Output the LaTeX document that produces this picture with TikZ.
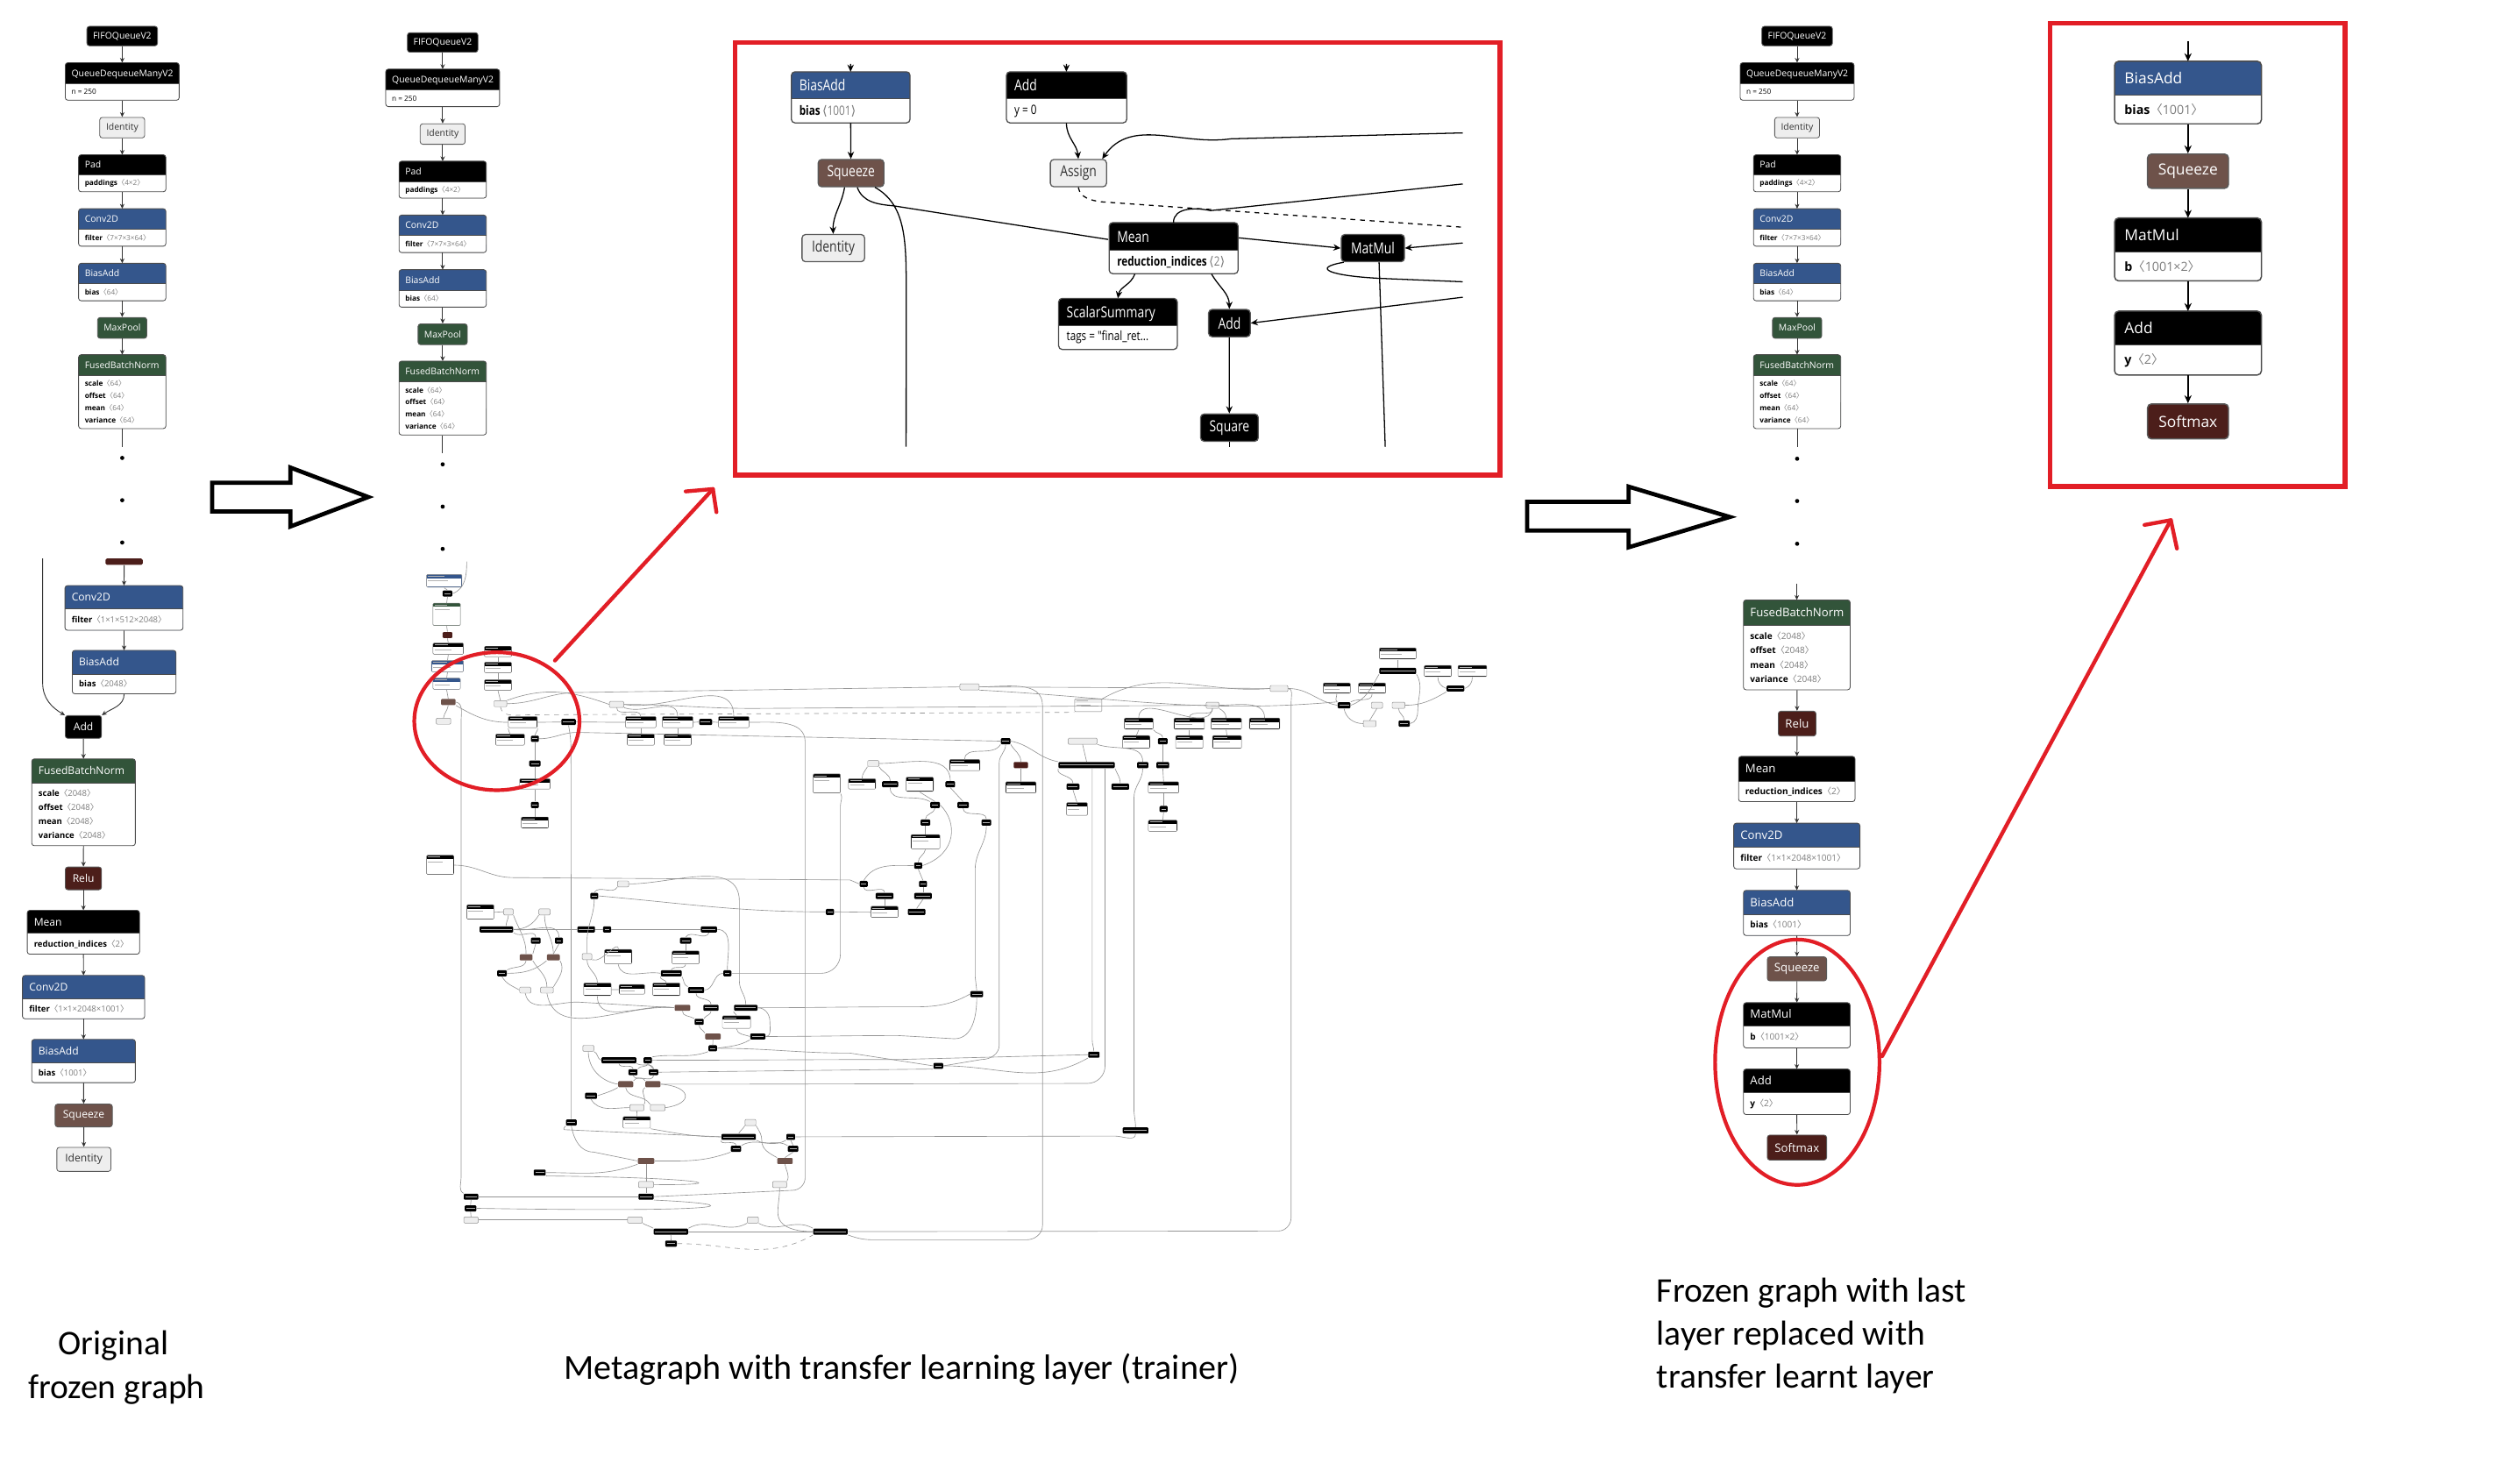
\documentclass[tikz,border=0pt]{standalone}
\usepackage{fontspec}
\setmainfont{Open Sans}
\newfontfamily\capfont{Carlito}
\newfontfamily\cjk{Noto Sans CJK SC}
\newfontfamily\dvs{DejaVu Sans}
\newfontfamily\nar{Open Sans}[FakeStretch=0.8]
\usetikzlibrary{arrows.meta,shapes.geometric}
\definecolor{tbblue}{RGB}{52,86,140}
\definecolor{tbgreen}{RGB}{50,84,58}
\definecolor{tbbrown}{RGB}{110,82,74}
\definecolor{tbred}{RGB}{76,30,26}
\definecolor{tblight}{RGB}{238,238,238}
\definecolor{valgray}{RGB}{125,125,125}
\definecolor{mkred}{RGB}{226,30,38}
\newcommand\V[1]{\textcolor{valgray}{{\cjk 〈}#1{\cjk 〉}}}
\newcommand\Vn[1]{\textcolor{valgray}{\,{\dvs ⟨}#1{\dvs ⟩}}}
\def\tsz{5.7}\def\tfam{}\def\pd{3.7}\def\rc{1.6pt}\def\bw{0.45pt}
\def\bfnt{\fontsize{4.5}{7.6}\selectfont}
\def\pfnt{\tfam\fontsize{\tsz}{\tsz}\selectfont}
% name, cx, top, width, header h, body h, header colour, title, body
\newcommand\TB[9]{%
 \fill[#7, rounded corners=\rc] ({#2-#4/2},#3) rectangle ({#2+#4/2},{#3+#5+#6});
 \fill[white] ({#2-#4/2},{#3+#5}) rectangle ({#2+#4/2},{#3+#5+#6/2});
 \fill[white, rounded corners=\rc] ({#2-#4/2},{#3+#5+#6/4}) rectangle ({#2+#4/2},{#3+#5+#6});
 \draw[tbborder, rounded corners=\rc] ({#2-#4/2},#3) rectangle ({#2+#4/2},{#3+#5+#6});
 \draw[tbborder] ({#2-#4/2},{#3+#5}) -- ({#2+#4/2},{#3+#5});
 \node[inner sep=0pt, outer sep=0pt, minimum width=#4pt, minimum height={(#5+#6)*1pt}, anchor=north] (#1) at (#2,#3) {};
 \node[anchor=base west, inner sep=0pt, text=white, font=\pfnt] (#1t) at ({#2-#4/2+\pd},{#3+#5/2+0.36*\tsz}) {#8};
 \node[anchor=west, inner sep=0pt, align=left, font=\bfnt] (#1b) at ({#2-#4/2+\pd},{#3+#5+#6/2}) {#9};
}
% tiny nodes of the small graph
\newcommand\tk[4]{\node[tiny, fill=black, minimum width=#4pt] (#1) at (#2,#3) {};
 \draw[white!70!black, line width=0.45pt] ({#2-#4/2+1},#3) -- ({#2+#4/2-1},#3);}
\newcommand\tkl[4]{\node[tiny, fill=tblight, draw=black!45, line width=0.25pt, minimum width=#4pt] (#1) at (#2,#3) {};}
\newcommand\tcl[5]{\node[tiny, fill=#5, minimum width=#4pt] (#1) at (#2,#3) {};}
\newcommand\thb[6]{%
 \fill[#6, rounded corners=0.6pt] ({#2-#4/2},#3) rectangle ({#2+#4/2},{#3+#5});
 \fill[white] ({#2-#4/2+0.25},{#3+2.4}) rectangle ({#2+#4/2-0.25},{#3+#5-0.25});
 \draw[black!45, line width=0.25pt, rounded corners=0.6pt] ({#2-#4/2},#3) rectangle ({#2+#4/2},{#3+#5});
 \node[inner sep=0pt, minimum width=#4pt, minimum height=#5pt, anchor=north] (#1) at (#2,#3) {};
 \draw[white!70!black, line width=0.45pt] ({#2-#4/2+1},{#3+1.2}) -- ({#2},{#3+1.2});
 \draw[black!30, line width=0.4pt] ({#2-#4/2+1},{#3+4}) -- ({#2-#4/2+0.6*#4},{#3+4});}
\tikzset{
 tbborder/.style={draw=black!70, line width=\bw},
 pill/.style={fill=#1, draw=black!65, line width=\bw, rounded corners=\rc, inner sep=0pt, text=white, font=\pfnt},
 lpill/.style={pill=tblight, text=black!80},
 edge/.style={draw=black!80, line width=0.5pt, -{Stealth[length=3pt,width=2.8pt]}},
 edgeD/.style={draw=black, line width=0.8pt, -{Stealth[length=5pt,width=4.5pt]}},
 edgeE/.style={draw=black, line width=0.7pt, -{Stealth[length=4.5pt,width=4pt]}},
 wireE/.style={draw=black, line width=0.7pt},
 wire/.style={draw=black!42, line width=0.35pt},
 tiny/.style={inner sep=0pt, minimum height=3.8pt, rounded corners=0.6pt},
 dot/.style={circle, fill=black, inner sep=0pt, minimum size=2.6pt},
 redline/.style={draw=mkred, line width=2.4pt, line cap=round, line join=round},
 bigarrow/.style={draw=black, line width=2.6pt, fill=white, line join=miter},
 capt/.style={inner sep=0pt, font=\capfont\fontsize{21.6}{27}\selectfont},
}
\begin{document}
\begin{tikzpicture}[x=1pt, y=-1pt]
\fill[white] (0,0) rectangle (1560,925);
\useasboundingbox (0,0) rectangle (1560,925);
\begin{scope}[yscale=0.995]
%================ column 1 : original frozen graph =================
\node[pill=black, minimum width=44pt, minimum height=12.2pt] (fifo1) at (76.2,22.6) {FIFOQueueV2};
\TB{qdm1}{76.2}{39.3}{71}{13.2}{10.3}{black}{QueueDequeueManyV2}{n = 250}
\node[lpill, minimum width=28pt, minimum height=12.8pt] (id1) at (76.2,80) {Identity};
\TB{pad1}{76.2}{97}{54.4}{12.8}{10.4}{black}{Pad}{\textbf{paddings}\V{4×2}}
\TB{conv1}{76.2}{130.8}{54.4}{12.9}{10.6}{tbblue}{Conv2D}{\textbf{filter}\V{7×7×3×64}}
\TB{bias1}{76.2}{165}{54.4}{12.9}{10.6}{tbblue}{BiasAdd}{\textbf{bias}\V{64}}
\node[pill=tbgreen, minimum width=30.7pt, minimum height=13pt] (mp1) at (76.2,205.5) {MaxPool};
\TB{fbn1}{76.2}{222.3}{54.4}{12.9}{33.4}{tbgreen}{FusedBatchNorm}{\textbf{scale}\V{64}\\\textbf{offset}\V{64}\\\textbf{mean}\V{64}\\\textbf{variance}\V{64}}
\coordinate (f1end) at (76.2,280);
\draw[edge] (fifo1) -- (qdm1);
\draw[edge] (qdm1) -- (id1);
\draw[edge] (id1) -- (pad1);
\draw[edge] (pad1) -- (conv1);
\draw[edge] (conv1) -- (bias1);
\draw[edge] (bias1) -- (mp1);
\draw[edge] (mp1) -- (fbn1);
\draw[draw=black!80, line width=0.5pt] (fbn1.south) -- (f1end);
\node[dot] (d1a) at (76.2,287) {};
\node[dot] (d1b) at (76.2,313.5) {};
\node[dot] (d1c) at (76.2,340) {};

\def\tsz{6.6}\def\pd{4}\def\bfnt{\fontsize{5.2}{8.8}\selectfont}
\node[fill=tbred, inner sep=0pt, minimum width=23.3pt, minimum height=4pt, rounded corners=1pt] (cut1) at (77.4,352) {};
\coordinate (lw1) at (26.6,350);
\TB{conv1b}{77.3}{367}{73.6}{14.3}{13.7}{tbblue}{Conv2D}{\textbf{filter}\V{1×1×512×2048}}
\TB{bias1b}{77.4}{407.6}{64.7}{15}{12.2}{tbblue}{BiasAdd}{\textbf{bias}\V{2048}}
\node[pill=black, minimum width=22.6pt, minimum height=14.2pt] (add1) at (52,455.6) {Add};
\TB{fbn1b}{52.1}{475.6}{64.6}{15}{39.4}{tbgreen}{FusedBatchNorm}{\textbf{scale}\V{2048}\\\textbf{offset}\V{2048}\\\textbf{mean}\V{2048}\\\textbf{variance}\V{2048}}
\node[pill=tbred, minimum width=22.6pt, minimum height=14.2pt] (relu1) at (52,550.5) {Relu};
\TB{mean1}{52}{570.5}{70}{14.5}{13}{black}{Mean}{\textbf{reduction\_indices}\V{2}}
\TB{conv1c}{52.1}{611.3}{76.2}{14.8}{12.4}{tbblue}{Conv2D}{\textbf{filter}\V{1×1×2048×1001}}
\TB{bias1c}{52.1}{651.4}{64.6}{14.8}{12.3}{tbblue}{BiasAdd}{\textbf{bias}\V{1001}}
\node[pill=tbbrown, minimum width=35.7pt, minimum height=14.2pt] (sq1) at (52.2,699.1) {Squeeze};
\node[lpill, minimum width=33.7pt, minimum height=15pt] (idn1) at (52.3,726.6) {Identity};
\draw[edge] (cut1) -- (conv1b);
\draw[edge] (conv1b) -- (bias1b);
\draw[edge] (bias1b.south) to[out=-90,in=35] (add1.north east);
\draw[edge] (lw1) -- (26.6,428) to[out=-90,in=150] (add1.north west);
\draw[edge] (add1) -- (fbn1b);
\draw[edge] (fbn1b) -- (relu1);
\draw[edge] (relu1) -- (mean1);
\draw[edge] (mean1) -- (conv1c);
\draw[edge] (conv1c) -- (bias1c);
\draw[edge] (bias1c) -- (sq1);
\draw[edge] (sq1) -- (idn1);

%================ column 2 : metagraph =================
\def\tsz{5.7}\def\pd{3.7}\def\bfnt{\fontsize{4.5}{7.6}\selectfont}
\node[pill=black, minimum width=44pt, minimum height=12.2pt] (fifo2) at (276,26.6) {FIFOQueueV2};
\TB{qdm2}{276}{43.3}{71}{13.2}{10.3}{black}{QueueDequeueManyV2}{n = 250}
\node[lpill, minimum width=28pt, minimum height=12.8pt] (id2) at (276,84) {Identity};
\TB{pad2}{276}{101}{54.4}{12.8}{10.4}{black}{Pad}{\textbf{paddings}\V{4×2}}
\TB{conv2}{276}{134.8}{54.4}{12.9}{10.6}{tbblue}{Conv2D}{\textbf{filter}\V{7×7×3×64}}
\TB{bias2}{276}{169}{54.4}{12.9}{10.6}{tbblue}{BiasAdd}{\textbf{bias}\V{64}}
\node[pill=tbgreen, minimum width=30.7pt, minimum height=13pt] (mp2) at (276,209.5) {MaxPool};
\TB{fbn2}{276}{226.3}{54.4}{12.9}{33.4}{tbgreen}{FusedBatchNorm}{\textbf{scale}\V{64}\\\textbf{offset}\V{64}\\\textbf{mean}\V{64}\\\textbf{variance}\V{64}}
\coordinate (f2end) at (276,284);
\draw[edge] (fifo2) -- (qdm2);
\draw[edge] (qdm2) -- (id2);
\draw[edge] (id2) -- (pad2);
\draw[edge] (pad2) -- (conv2);
\draw[edge] (conv2) -- (bias2);
\draw[edge] (bias2) -- (mp2);
\draw[edge] (mp2) -- (fbn2);
\draw[draw=black!80, line width=0.5pt] (fbn2.south) -- (f2end);
\node[dot] (d2a) at (276,291) {};
\node[dot] (d2b) at (276,317.5) {};
\node[dot] (d2c) at (276,344) {};

%---- small picture of the whole trainer graph
\thb{xc1}{277}{360}{22}{8}{tbblue}
\tk{xc2}{279}{372}{6}
\thb{xc3}{278.5}{378}{17}{14}{tbgreen}
\tcl{xc4}{279}{398}{6}{tbred}
\thb{xc5}{279.5}{403}{19}{7}{black}
\thb{xc6}{279}{414}{20}{7}{tbblue}
\thb{xc7}{278.5}{425}{17}{7}{tbblue}
\tcl{xc8}{279.5}{440}{9}{tbbrown}
\tkl{xc9}{276.5}{452}{9}
\thb{xd1}{310.5}{405}{17}{6.5}{black}
\thb{xd2}{310.5}{415}{17}{6.5}{black}
\thb{xd3}{310.5}{426}{17}{6.5}{black}
\tkl{xd4}{312}{441}{8}
\thb{xe1}{326}{449}{18}{7}{black}
\tk{xe2}{354.5}{452.5}{9}
\thb{xe3}{318}{460}{18}{7}{black}
\tk{xe4}{333.5}{463}{5}
\tk{xe5}{333.5}{478.5}{7}
\thb{xe6}{333.5}{488}{19}{6.5}{black}
\tk{xe7}{333.5}{504.5}{5}
\thb{xe8}{333.5}{512}{17}{7}{black}
\tkl{xf1}{384.5}{441.5}{9}
\thb{xf2}{399.5}{449}{19}{7}{black}
\thb{xf3}{422.5}{449}{19}{7}{black}
\tk{xf4}{440}{452.5}{8}
\thb{xf5}{457.5}{449}{19}{7}{black}
\thb{xf6}{399.5}{460}{17}{7}{black}
\thb{xf7}{422.5}{460}{17}{7}{black}
\tkl{xg1}{604.5}{430.5}{12}
\tkl{xh1}{797.5}{431.5}{11}
\thb{xh2}{678.5}{438}{17}{8}{tblight}
\tkl{xh3}{756}{442}{8}
\thb{xh4}{710}{450}{18}{7}{black}
\thb{xh5}{741.5}{450}{19}{7}{black}
\thb{xh6}{764.5}{450}{19}{7}{black}
\thb{xh7}{788.5}{450}{19}{7}{black}
\thb{xh8}{708.5}{461}{17}{8}{black}
\thb{xh9}{741.5}{461}{17}{8}{black}
\thb{xh10}{765}{461}{18}{8}{black}
\tk{xh11}{725}{464.5}{6}
\tk{xh12}{627}{464.5}{6}
\tkl{xh13}{675}{464.5}{18}
\thb{xk1}{871.5}{406}{23}{7}{black}
\tk{xk2}{871.5}{420.5}{23}
\thb{xk3}{896.5}{417}{17}{7}{black}
\thb{xk4}{918}{417}{18}{7}{black}
\thb{xk5}{833.5}{428}{17}{6.5}{black}
\thb{xk6}{855.5}{428}{17}{6.5}{black}
\tk{xk7}{907.5}{431.5}{11}
\tk{xk8}{838}{442}{8}
\tkl{xk9}{858.5}{442}{7}
\tkl{xk10}{872}{442}{8}
\tkl{xk11}{854}{453.5}{8}
\tk{xk12}{875.5}{453.5}{7}
\thb{xm1}{601.5}{476}{19}{7}{black}
\tcl{xm2}{636.5}{479.5}{9}{tbred}
\tk{xm3}{677.5}{479.5}{35}
\tk{xm4}{712.5}{479.5}{7}
\tk{xm5}{725}{479.5}{8}
\thb{xm7}{636.5}{490}{19}{7}{black}
\thb{xm8}{725.5}{490}{19}{7}{black}
\thb{xm9}{725}{514}{18}{7}{black}
\tk{xm10}{725.5}{507}{5}
\thb{xm11}{671.5}{503}{13}{8}{black}
\tk{xm12}{669}{493}{8}
\tk{xm13}{698.5}{493}{11}
\thb{xn1}{515.5}{485}{17}{12}{black}
\tkl{xn2}{544.5}{478.5}{7}
\thb{xn3}{537.5}{488}{17}{6.5}{black}
\tk{xn4}{555}{491.5}{10}
\thb{xn5}{573.5}{487}{17}{9}{black}
\tk{xn6}{592.5}{491.5}{6}
\tk{xn7}{583}{504.5}{6}
\tk{xn8}{600.5}{504.5}{7}
\tk{xn9}{615}{515.5}{6}
\tk{xn10}{577}{515.5}{6}
\thb{xn11}{577}{523}{18}{9}{black}
\tk{xn12}{572.5}{542.5}{5}
\tk{xn13}{575.5}{554}{5}
\tk{xn14}{538.5}{554}{5}
\tk{xn15}{551.5}{561.5}{11}
\tk{xn16}{575.5}{561.5}{11}
\thb{xn17}{551.5}{568}{17}{7}{black}
\tk{xn18}{571.5}{571.5}{11}
\thb{xp1}{274.5}{536}{17}{12}{black}
\tkl{xp2}{388.5}{554}{7}
\tk{xp3}{370.5}{561.5}{5}
\tk{xp4}{517.5}{571.5}{5}
\thb{xp5}{299.5}{567}{17}{9}{black}
\tkl{xp6}{317}{571.5}{6}
\tkl{xp7}{339.5}{571.5}{7}
\tk{xp8}{309.5}{582.5}{21}
\tk{xp9}{365.5}{582.5}{11}
\tk{xp10}{378.5}{582.5}{5}
\tk{xp11}{442}{582.5}{10}
\tk{xp12}{334}{589.5}{6}
\tk{xp13}{348.5}{589.5}{5}
\tk{xp14}{427.5}{589.5}{7}
\tcl{xp15}{328}{600}{8}{tbbrown}
\tcl{xp16}{345}{600}{8}{tbbrown}
\thb{xp17}{427.5}{596}{17}{8}{black}
\thb{xp18}{385.5}{595}{17}{9}{black}
\tkl{xp19}{366}{599.5}{6}
\tk{xp20}{313}{610}{6}
\tk{xp21}{418.5}{610}{13}
\tk{xp22}{453.5}{610}{5}
\thb{xp23}{372.5}{616}{17}{8}{black}
\thb{xp24}{394}{617}{16}{6}{black}
\thb{xp25}{415.5}{616}{17}{8}{black}
\tk{xp26}{434}{620.5}{10}
\tkl{xp27}{327.5}{620.5}{7}
\tkl{xp28}{341}{620.5}{8}
\tk{xp29}{609}{623}{8}
\tk{xq11}{585}{668}{6}
\tk{xq12}{682}{661}{7}
\tk{xq13}{708}{708.5}{16}
\tcl{xy1}{425.5}{631.6}{9.7}{tbbrown}
\tk{xy2}{443.3}{631.6}{9.5}
\tk{xy3}{465}{631.6}{14.6}
\tk{xy4}{435.9}{640.4}{5.7}
\thb{xy5}{459.2}{636.6}{17.6}{7.8}{black}
\tcl{xy6}{444.5}{649.6}{9.6}{tbbrown}
\tk{xy7}{472.5}{649.6}{9.4}
\tk{xy8}{444.4}{657}{5.3}
\tkl{xy9}{366.8}{657}{6.8}
\tk{xy10}{385.9}{664.5}{21.8}
\tk{xy11}{403.9}{664.5}{5.2}
\tk{xy12}{394.7}{672}{5.6}
\tk{xy13}{407.5}{672}{5.8}
\tcl{xy14}{390.1}{679.5}{9.4}{tbbrown}
\tcl{xy15}{407.1}{679.5}{9.4}{tbbrown}
\tk{xy16}{368.5}{686.8}{7.4}
\tkl{xy17}{397.1}{694.2}{8.8}
\tkl{xy18}{410.1}{694.2}{9.2}
\thb{xy19}{397}{699.8}{17.1}{7.2}{black}
\tk{xy20}{356.2}{703.5}{6.7}
\tkl{xy21}{467.9}{703.5}{6.8}
\tk{xy22}{460.6}{712.5}{21.4}
\tk{xy23}{493}{712.5}{5.4}
\tk{xy24}{458.9}{720}{6.4}
\tk{xy25}{494.5}{720}{6.5}
\tcl{xy26}{402.8}{727.6}{10.2}{tbbrown}
\tcl{xy27}{489.4}{727.6}{9.6}{tbbrown}
\tk{xy28}{336.5}{734.9}{7.5}
\tkl{xy29}{402.8}{742.4}{9.4}
\tkl{xy30}{486.1}{742.4}{8.8}
\tk{xy31}{293.7}{750}{9}
\tk{xy32}{402.8}{750}{9.4}
\tk{xy33}{293.4}{757.3}{7.2}
\tkl{xy34}{293.7}{764.6}{9}
\tkl{xy35}{395.9}{764.6}{9.2}
\tkl{xy36}{469.4}{764.6}{7}
\tk{xy37}{418.3}{771.9}{21.5}
\tk{xy38}{517.8}{771.9}{21.5}
\tk{xy39}{418.4}{779.4}{7.3}
\coordinate (xr0) at (291,352);
% wires
\draw[wire] (xc1.south) -- (xc2.north);
\draw[wire] (xr0) to[out=-90,in=20] (xc2.east);
\draw[wire] (xc2.south) -- (xc3.north);
\draw[wire] (xc3.south) -- (xc4.north);
\draw[wire] (xc4.south) -- (xc5.north);
\draw[wire] (xc5.south) -- (xc6.north);
\draw[wire] (xc6.south) -- (xc7.north);
\draw[wire] (xc7.south) -- (xc8.north);
\draw[wire] (xc8.south) to[out=-100,in=80] (xc9.north);
\draw[wire] (xd1.south) -- (xd2.north);
\draw[wire] (xd2.south) -- (xd3.north);
\draw[wire] (xd3.south) -- (xd4.north);
\draw[wire] (xc8.south east) to[out=-30,in=180] (xe1.west);
\draw[wire] (xc8.east) to[out=-10,in=90] (287.5,452) -- (287.5,738) to[out=-90,in=150] (xy31.north west);
\draw[wire] (xy38.east) -- (797,771.5) to[out=0,in=-90] (805,763) -- (805,440) to[out=90,in=0] (xh1.east);
\draw[wire] (xe1.east) -- (xe2.west);
\draw[wire] (xe1.south west) to[out=-100,in=90] (xe3.north);
\draw[wire] (xe1.south east) to[out=-80,in=90] (xe4.north);
\draw[wire] (xe4.south) -- (xe5.north);
\draw[wire] (xe5.south) -- (xe6.north);
\draw[wire] (xe6.south) -- (xe7.north);
\draw[wire] (xe7.south) -- (xe8.north);
\draw[wire] (xe2.south) to[out=-80,in=90] (356,470) -- (xy20.north);
\draw[wire] (xg1.east) to[out=0,in=90] (650,442) -- (650,768) to[out=-90,in=0] (640,777) -- (545,777) to[out=180,in=-20] (xy38.south east);
\draw[wire] (xe2.east) to[out=0,in=180] (xf2.west);
\draw[wire] (xd4.east) to[out=0,in=180] (360,434) -- (xg1.west);
\draw[wire] (xg1.east) -- (xh1.west);
\draw[wire] (xh1.east) to[out=0,in=170] (xk8.west);
\draw[wire] (xg1.south east) to[out=-3,in=185] (xk8.north west);
\draw[wire, dashed] (xd4.south) to[out=-80,in=180] (330,448) -- (xh2.south west);
\draw[wire] (xh2.north east) to[out=30,in=185] (xh1.west);
\draw[wire] (xd4.north east) to[out=20,in=160] (xf1.west);
\draw[wire] (xf1.east) to[out=0,in=180] (470,444) -- (xh3.west);
\draw[wire] (xf1.south) to[out=-90,in=90] (xf2.north);
\draw[wire] (xf1.south east) to[out=-20,in=90] (xf3.north);
\draw[wire] (xf1.east) to[out=-10,in=90] (xf5.north);
\draw[wire] (xf2.south) -- (xf6.north);
\draw[wire] (xf3.south) -- (xf7.north);
\draw[wire] (xf3.east) -- (xf4.west);
\draw[wire] (xf4.east) -- (xf5.west);
\draw[wire] (xe4.east) to[out=0,in=180] (360,459) -- (xh12.west);
\draw[wire] (xf5.east) to[out=0,in=90] (502,465) -- (502,738) to[out=-90,in=0] (494,746) -- (xy32.east);
\draw[wire] (xh3.south) to[out=-100,in=90] (xh4.north);
\draw[wire] (xh3.south) to[out=-80,in=90] (xh5.north);
\draw[wire] (xh3.south east) to[out=-30,in=90] (xh6.north);
\draw[wire] (xh3.east) to[out=0,in=90] (xh7.north);
\draw[wire] (xh4.south) -- (xh8.north);
\draw[wire] (xh5.south) -- (xh9.north);
\draw[wire] (xh6.south) -- (xh10.north);
\draw[wire] (xh4.south east) to[out=-60,in=90] (xh11.north);
\draw[wire] (xh11.south) -- (xm5.north);
\draw[wire] (xh13.south) -- (xm3.north);
\draw[wire] (xh13.south east) to[out=-20,in=90] (xm4.north);
\draw[wire] (xh12.south west) to[out=-120,in=90] (xm1.north);
\draw[wire] (xh12.south east) to[out=-60,in=90] (xm2.north);
\draw[wire] (xh12.east) to[out=-10,in=170] (xm3.north west);
\draw[wire] (xh12.south) to[out=-90,in=90] (623,478) -- (623,655) to[out=-90,in=0] (612,664) -- (xq11.east);
\draw[wire] (xk1.south) -- (xk2.north);
\draw[wire] (xk2.south west) to[out=-120,in=20] (xk8.east);
\draw[wire] (xk2.south east) to[out=-60,in=90] (884,445) to[out=-90,in=10] (xk12.east);
\draw[wire] (xk3.south) to[out=-90,in=160] (xk7.west);
\draw[wire] (xk4.south) to[out=-90,in=20] (xk7.east);
\draw[wire] (xk7.south west) to[out=-150,in=0] (xk10.east);
\draw[wire] (xk5.south) to[out=-90,in=150] (xk8.north west);
\draw[wire] (xk6.south) to[out=-90,in=30] (xk8.north east);
\draw[wire] (xk8.south) to[out=-80,in=180] (xk11.west);
\draw[wire] (xk9.south) -- (xk11.north);
\draw[wire] (xk10.south) to[out=-90,in=90] (xk12.north);
\draw[wire] (xm2.south) -- (xm7.north);
\draw[wire] (xm3.south west) to[out=-110,in=90] (xm12.north);
\draw[wire] (xm12.south) -- (xm11.north);
\draw[wire] (xm3.south east) to[out=-70,in=90] (xm13.north);
\draw[wire] ([xshift=3.5pt]xm3.south) -- (681,652) to[out=-90,in=90] (xq12.north);
\draw[wire] ([xshift=11.5pt]xm3.south) -- (689,668) to[out=-90,in=0] (678,679) -- (440,679.5) to[out=180,in=0] (xy15.east);
\draw[wire] (xm4.south) to[out=-90,in=90] (707,500) -- (707,695) to[out=-90,in=90] (xq13.north);
\draw[wire] (xm5.south) -- (xm8.north);
\draw[wire] (xm8.south) -- (xm10.north);
\draw[wire] (xm10.south) -- (xm9.north);
\draw[wire] (xn2.south west) to[out=-120,in=90] (xn3.north);
\draw[wire] (xn2.south east) to[out=-60,in=90] (xn4.north);
\draw[wire] (xn2.east) to[out=0,in=90] (xn6.north);
\draw[wire] (xn4.south) to[out=-90,in=150] (xn7.north west);
\draw[wire] (xn5.south) -- (xn7.north);
\draw[wire] (xn6.south) -- (xn8.north);
\draw[wire] (xn8.south) to[out=-90,in=90] (xn9.north);
\draw[wire] (xn7.south) to[out=-100,in=90] (xn10.north);
\draw[wire] (xn10.south) -- (xn11.north);
\draw[wire] (xn11.south) to[out=-100,in=90] (xn12.north);
\draw[wire] (xn7.east) .. controls (597,515) and (597,535) .. (xn12.east);
\draw[wire] (xn12.south) -- (xn13.north);
\draw[wire] (xn13.south) -- (xn16.north);
\draw[wire] (xn12.west) to[out=180,in=60] (xn14.north);
\draw[wire] (xn14.south) to[out=-80,in=90] (xn15.north);
\draw[wire] (xn15.south) -- (xn17.north);
\draw[wire] (xn16.south) -- (xn18.north);
\draw[wire] (xn9.south) to[out=-90,in=90] (608,545) -- (608,612) -- (xp29.north);
\draw[wire] (xn1.south east) to[out=-60,in=90] (524,505) -- (524,598) to[out=-90,in=0] (512,610) -- (xp22.east);
\draw[wire] (xp1.east) to[out=0,in=180] (320,550) -- (530,551.5) -- (xn14.west);
\draw[wire] (xp2.south west) to[out=-120,in=60] (xp3.north);
\draw[wire] (xp2.east) to[out=0,in=90] (461,565) -- (461,615) to[out=-90,in=90] (xy3.north);
\draw[wire] (xp3.east) to[out=-5,in=180] (xp4.west);
\draw[wire] (xp4.east) to[out=0,in=180] (xn17.west);
\draw[wire] (xp6.south) to[out=-90,in=90] ([xshift=6pt]xp8.north);
\draw[wire] (xp7.south west) to[out=-120,in=0] (xp8.east);
\draw[wire] (xp8.south east) to[out=-40,in=90] (xp12.north);
\draw[wire] (xp8.east) to[out=-10,in=90] (xp13.north);
\draw[wire] (xp6.south east) to[out=-70,in=90] (xp15.north);
\draw[wire] (xp7.south) to[out=-90,in=90] (xp16.north);
\draw[wire] (xp12.south) -- (xp15.north east);
\draw[wire] (xp13.south) -- (xp16.north);
\draw[wire] (xp15.south) to[out=-100,in=30] (xp20.north east);
\draw[wire] (xp16.south west) to[out=-140,in=0] (xp20.east);
\draw[wire] (xp20.south) to[out=-60,in=150] (xp27.west);
\draw[wire] (xp15.south east) to[out=-60,in=90] (xp28.north);
\draw[wire] (xp16.south east) to[out=-60,in=60] (xp28.north east);
\draw[wire] (xp8.east) -- (xp9.west);
\draw[wire] (xp9.east) -- (xp10.west);
\draw[wire] (xp10.east) -- (xp11.west);
\draw[wire] (xp11.south) to[out=-110,in=60] (xp14.north);
\draw[wire] (xp14.south) -- (xp17.north);
\draw[wire] (xp17.south) to[out=-100,in=60] (xp21.north);
\draw[wire] (xp19.south east) to[out=-20,in=90] (xp18.north);
\draw[wire] (xp19.south) to[out=-90,in=90] (xp23.north);
\draw[wire] (xp18.south) to[out=-80,in=170] (xp21.west);
\draw[wire] (xp21.south west) to[out=-110,in=90] (xp25.north);
\draw[wire] (xp21.south east) to[out=-60,in=160] (xp26.north west);
\draw[wire] (xp26.east) to[out=0,in=180] (xp22.west);
\draw[wire] (xp22.north) to[out=90,in=0] (xp11.east);
\draw[wire] (xp23.east) -- (xp24.west);
\draw[wire] (xp3.south) to[out=-90,in=90] (366,590) -- (xp19.north);
\draw[wire] (xp5.east) to[out=0,in=180] (xp6.west);
\draw[wire] (xq12.south west) to[out=-150,in=0] (xq11.east);
\draw[wire] (xq13.south) to[out=-90,in=0] (695,712) -- (xy23.east);
% lower part of the small graph
\draw[wire] (xp23.south) to[out=-90,in=170] (xy1.west);
\draw[wire] (xp27.south) to[out=-80,in=180] (360,628) -- (xy1.west);
\draw[wire] (xp28.south) to[out=-80,in=175] (xy1.west);
\draw[wire] (xp26.south) to[out=-90,in=90] (xy2.north);
\draw[wire] (xy1.south) to[out=-90,in=150] (xy4.north west);
\draw[wire] (xy2.south) to[out=-90,in=60] (xy4.north east);
\draw[wire] (xy3.south west) to[out=-120,in=90] (xy5.north);
\draw[wire] (xy3.east) to[out=0,in=90] (480,640) to[out=-90,in=0] (xy7.east);
\draw[wire] (xy4.south) to[out=-90,in=120] (xy6.north west);
\draw[wire] (xy5.south) to[out=-80,in=160] (xy7.west);
\draw[wire] (xy6.south) -- (xy8.north);
\draw[wire] (xy7.south west) to[out=-150,in=10] (xy8.east);
\draw[wire] (xy8.south west) to[out=-160,in=10] (xy11.north east);
\draw[wire] (xy3.east) to[out=0,in=180] (560,631) to[out=0,in=-150] (xp29.west);
\draw[wire] (xy7.east) to[out=0,in=180] (560,649) -- (595,651) to[out=0,in=-90] (xp29.south);
\draw[wire] (xy8.east) to[out=0,in=180] (530,660) -- (xq11.west);
\draw[wire] (xy11.east) to[out=0,in=180] (560,664) -- (xq12.west);
\draw[wire] (xy13.east) -- (580,670) to[out=0,in=-150] (xq11.south west);
\draw[wire] (xy9.south east) to[out=-20,in=160] (xy10.west);
\draw[wire] (xy9.south) to[out=-90,in=170] (xy14.west);
\draw[wire] (xy10.south) to[out=-80,in=100] (xy12.north);
\draw[wire] (xy10.south east) to[out=-30,in=100] (xy13.north);
\draw[wire] (xy11.south) to[out=-100,in=60] (xy12.north east);
\draw[wire] (xy11.south) -- (xy13.north);
\draw[wire] (xy12.south) to[out=-80,in=100] (xy15.north west);
\draw[wire] (xy13.south) to[out=-100,in=60] (xy14.north east);
\draw[wire] (xy14.south west) to[out=-150,in=20] (xy16.east);
\draw[wire] (xy14.south) to[out=-80,in=120] (xy18.north west);
\draw[wire] (xy15.south west) to[out=-150,in=60] (xy17.north east);
\draw[wire] (xy15.east) .. controls (432,681) and (432,692) .. (xy18.east);
\draw[wire] (xy16.south) to[out=-60,in=180] (xy17.west);
\draw[wire] (xy17.south) -- (xy19.north);
\draw[wire] (xy19.south east) to[out=-10,in=180] (xy22.west);
\draw[wire] (xy20.south west) to[out=-150,in=180] (352,708) -- (xy22.west);
\draw[wire] (xy20.south) to[out=-80,in=180] (370,722) -- (xy26.west);
\draw[wire] (xy21.south west) to[out=-120,in=60] (xy22.north);
\draw[wire] (xy21.south east) to[out=-60,in=90] (475,715) to[out=-90,in=150] (xy27.north west);
\draw[wire] (xy22.south west) to[out=-110,in=90] (xy24.north);
\draw[wire] (xy22.south east) to[out=-30,in=150] (xy25.north west);
\draw[wire] (xy23.south west) to[out=-150,in=30] (xy24.north east);
\draw[wire] (xy23.south) -- (xy25.north);
\draw[wire] (xy24.south west) to[out=-160,in=0] (xy26.east);
\draw[wire] (xy25.south) -- (xy27.north);
\draw[wire] (xy26.south west) to[out=-160,in=0] (xy28.east);
\draw[wire] (xy26.south) -- (xy29.north);
\draw[wire] (xy28.south east) .. controls (440,738) and (460,743) .. (xy29.east);
\draw[wire] (xy27.south) to[out=-80,in=60] (xy30.north east);
\draw[wire] (xy29.south) -- (xy32.north);
\draw[wire] (xy32.west) -- (xy31.east);
\draw[wire] (xy31.south) -- (xy33.north);
\draw[wire] (xy33.south) -- (xy34.north);
\draw[wire] (xy32.south east) .. controls (470,755) and (460,760) .. (xy33.east);
\draw[wire] (xy34.east) -- (xy35.west);
\draw[wire] (xy35.south east) to[out=-30,in=150] (xy37.north west);
\draw[wire] (xy36.south west) to[out=-150,in=30] (xy37.north east);
\draw[wire] (xy36.south east) to[out=-30,in=150] (xy38.north west);
\draw[wire] (xy30.south) to[out=-90,in=90] (485,760) to[out=-90,in=180] (xy38.west);
\draw[wire] (xy37.east) -- (xy38.west);
\draw[wire] (xy37.south) -- (xy39.north);
\draw[wire, dashed] (xy39.east) to[out=0,in=-150] (xy38.south west);

%================ column 3 : frozen graph with replaced layer =================
\node[pill=black, minimum width=44pt, minimum height=12.2pt] (fifo3) at (1120.5,22.6) {FIFOQueueV2};
\TB{qdm3}{1120.5}{39.3}{71}{13.2}{10.3}{black}{QueueDequeueManyV2}{n = 250}
\node[lpill, minimum width=28pt, minimum height=12.8pt] (id3) at (1120.5,80) {Identity};
\TB{pad3}{1120.5}{97}{54.4}{12.8}{10.4}{black}{Pad}{\textbf{paddings}\V{4×2}}
\TB{conv3}{1120.5}{130.8}{54.4}{12.9}{10.6}{tbblue}{Conv2D}{\textbf{filter}\V{7×7×3×64}}
\TB{bias3}{1120.5}{165}{54.4}{12.9}{10.6}{tbblue}{BiasAdd}{\textbf{bias}\V{64}}
\node[pill=tbgreen, minimum width=30.7pt, minimum height=13pt] (mp3) at (1120.5,205.5) {MaxPool};
\TB{fbn3}{1120.5}{222.3}{54.4}{12.9}{33.4}{tbgreen}{FusedBatchNorm}{\textbf{scale}\V{64}\\\textbf{offset}\V{64}\\\textbf{mean}\V{64}\\\textbf{variance}\V{64}}
\coordinate (f3end) at (1120.5,280);
\draw[edge] (fifo3) -- (qdm3);
\draw[edge] (qdm3) -- (id3);
\draw[edge] (id3) -- (pad3);
\draw[edge] (pad3) -- (conv3);
\draw[edge] (conv3) -- (bias3);
\draw[edge] (bias3) -- (mp3);
\draw[edge] (mp3) -- (fbn3);
\draw[draw=black!80, line width=0.5pt] (fbn3.south) -- (f3end);
\node[dot] (d3a) at (1120.5,287.5) {};
\node[dot] (d3b) at (1120.5,314) {};
\node[dot] (d3c) at (1120.5,340.8) {};

\def\tsz{7.2}\def\pd{4}\def\bfnt{\fontsize{5.5}{9}\selectfont}
\coordinate (c3in) at (1120.3,365.7);
\TB{fbn3b}{1120.3}{376}{66.5}{16}{40.3}{tbgreen}{FusedBatchNorm}{\textbf{scale}\V{2048}\\\textbf{offset}\V{2048}\\\textbf{mean}\V{2048}\\\textbf{variance}\V{2048}}
\node[pill=tbred, minimum width=23.5pt, minimum height=15.5pt] (relu3) at (1120.5,453.5) {Relu};
\TB{mean3}{1120.3}{474}{72.6}{15.5}{12.9}{black}{Mean}{\textbf{reduction\_indices}\V{2}}
\TB{conv3b}{1120.3}{515.9}{78.7}{14.9}{13.7}{tbblue}{Conv2D}{\textbf{filter}\V{1×1×2048×1001}}
\TB{bias3b}{1120.3}{558}{66.5}{15}{13.3}{tbblue}{BiasAdd}{\textbf{bias}\V{1001}}
\node[pill=tbbrown, minimum width=37pt, minimum height=15pt] (sq3) at (1120.4,607.2) {Squeeze};
\TB{mm3}{1120.3}{628.4}{66.5}{14.6}{13.7}{black}{MatMul}{\textbf{b}\V{1001×2}}
\TB{add3}{1120.3}{670}{66.5}{14.9}{13.6}{black}{Add}{\textbf{y}\V{2}}
\node[pill=tbred, minimum width=37pt, minimum height=15.6pt] (smx3) at (1120.4,719.2) {Softmax};
\draw[edge] (c3in) -- (fbn3b);
\draw[edge] (fbn3b) -- (relu3);
\draw[edge] (relu3) -- (mean3);
\draw[edge] (mean3) -- (conv3b);
\draw[edge] (conv3b) -- (bias3b);
\draw[edge] (bias3b) -- (sq3);
\draw[edge] (sq3) -- (mm3);
\draw[edge] (mm3) -- (add3);
\draw[edge] (add3) -- (smx3);

%================ red box 2 : zoom of the new last layer =================
\node[draw=mkred, line width=3pt, inner sep=0pt, minimum width=184pt, minimum height=289pt, anchor=north west] (rb2) at (1276.6,13) {};
\def\tsz{9.5}\def\pd{6}\def\rc{2.5pt}\def\bw{0.8pt}\def\bfnt{\fontsize{7.8}{9}\selectfont}
\coordinate (rb2in) at (1364.2,25.7);
\TB{bias4}{1364.2}{38.4}{91.5}{21.1}{18.1}{tbblue}{BiasAdd}{\textbf{bias}\V{1001}}
\node[pill=tbbrown, minimum width=50.5pt, minimum height=21.4pt] (sq4) at (1364.2,107.3) {Squeeze};
\TB{mm4}{1364.2}{136.6}{91.5}{21.2}{18.2}{black}{MatMul}{\textbf{b}\V{1001×2}}
\TB{add4}{1364.2}{195}{91.5}{21.3}{18.7}{black}{Add}{\textbf{y}\V{2}}
\node[pill=tbred, minimum width=50.5pt, minimum height=21.8pt] (smx4) at (1364.2,264.1) {Softmax};
\draw[edgeD] (rb2in) -- (bias4);
\draw[edgeD] (bias4) -- (sq4);
\draw[edgeD] (sq4) -- (mm4);
\draw[edgeD] (mm4) -- (add4);
\draw[edgeD] (add4) -- (smx4);

%================ red box 1 : zoom of the trainer graph =================
\node[draw=mkred, line width=3pt, inner sep=0pt, minimum width=477pt, minimum height=270pt, anchor=north west] (rb1) at (456.7,25) {};
\def\tsz{9.5}\def\pd{4.8}\def\rc{2.2pt}\def\bw{0.7pt}\def\tfam{\nar}\def\bfnt{\nar\fontsize{8}{9}\selectfont}
\begin{scope}[shift={(453.7,0)}, xscale=0.986, shift={(-453.7,0)}]
\coordinate (b5in) at (531.5,40);
\coordinate (a5in) at (668,40);
\TB{ba5}{531.5}{45}{75}{17}{15}{tbblue}{BiasAdd}{\textbf{bias}\Vn{1001}}
\TB{add5}{668}{45}{76}{17}{15}{black}{Add}{y = 0}
\node[pill=tbbrown, minimum width=41pt, minimum height=17pt] (sq5) at (531.7,108.5) {Squeeze};
\node[lpill, minimum width=35pt, minimum height=17pt] (asg5) at (675.5,108.5) {Assign};
\node[lpill, minimum width=39pt, minimum height=17pt] (idn5) at (520.5,155.5) {Identity};
\TB{mean5}{735.7}{139.5}{81.5}{17.5}{14.5}{black}{Mean}{\textbf{reduction\_indices}\Vn{2}}
\node[pill=black, minimum width=39.4pt, minimum height=17pt] (mm5) at (861.7,155.5) {MatMul};
\TB{ss5}{700.5}{187}{75}{17}{15}{black}{ScalarSummary}{tags = "final\_ret...}
\node[pill=black, minimum width=26pt, minimum height=17pt] (add5b) at (771,202.5) {Add};
\node[pill=black, minimum width=36pt, minimum height=17pt] (sqr5) at (771,268) {Square};
\coordinate (r5a) at (918.6,83.3);
\coordinate (r5b) at (918.6,115.3);
\coordinate (r5c) at (918.6,142.4);
\coordinate (r5d) at (918.6,152.3);
\coordinate (r5e) at (918.6,176.6);
\coordinate (r5f) at (869.6,280);
\coordinate (r5g) at (918.6,186.3);
\coordinate (r5h) at (771,280);
\coordinate (x5a) at (566.6,280);
\draw[edgeE] (b5in) -- (ba5);
\draw[edgeE] (a5in) -- (add5);
\draw[edgeE] (ba5) -- (sq5);
\draw[edgeE] (add5.south) to[out=-90,in=95] (asg5.north);
\draw[edgeE] ([xshift=-4pt]sq5.south) to[out=-100,in=92] (idn5.north);
\draw[wireE] ([xshift=4pt]sq5.south) to[out=-70,in=175] (558.6,129) -- ([yshift=5.5pt]mean5.west);
\draw[wireE] ([xshift=-6pt]sq5.south east) .. controls (566,128) and (566.6,150) .. (566.6,180) -- (x5a);
\draw[edgeE] (r5a) -- (772,87) to[out=188,in=55] ([xshift=-3pt]asg5.north east);
\draw[wireE] (r5b) -- (759,132) to[out=168,in=90] (mean5.north);
\draw[wireE, dashed] (asg5.south) to[out=-80,in=172] (690,126.5) -- (r5c);
\draw[edgeE] ([yshift=6.5pt]mean5.east) -- (mm5.west);
\draw[edgeE] (r5d) -- (mm5.east);
\draw[wireE] ([xshift=2pt]mm5.south west) .. controls (822,168) and (835,173) .. (867,174.5) -- (r5e);
\draw[wireE] ([xshift=4pt]mm5.south) -- (r5f);
\draw[edgeE] ([xshift=-24.4pt]mean5.south) to[out=-110,in=80] (ss5.north);
\draw[edgeE] ([xshift=24pt]mean5.south) to[out=-60,in=90] (add5b.north);
\draw[edgeE] (r5g) -- (add5b.east);
\draw[edgeE] (add5b) -- (sqr5);
\draw[wireE] (sqr5.south) -- (r5h);
\end{scope}

%================ big arrows, red marks =================
\draw[bigarrow] (132.3,302.5) -- (181,302.5) -- (181,293) -- (229.6,311.5) -- (181,330) -- (181,320.5) -- (132.3,320.5) -- cycle;
\draw[bigarrow] (952.2,314.5) -- (1015.5,314.5) -- (1015.5,305) -- (1078.5,324) -- (1015.5,343) -- (1015.5,332.5) -- (952.2,332.5) -- cycle;
\node[draw=mkred, line width=2.3pt, ellipse, inner sep=0pt, minimum width=103pt, minimum height=86pt] (ell1) at (309.8,452) {};
\node[draw=mkred, line width=2.3pt, ellipse, inner sep=0pt, minimum width=102.5pt, minimum height=153pt] (ell2) at (1120.6,665.7) {};
\coordinate (ra1s) at (346,414);
\coordinate (ra1t) at (444.5,306.5);
\coordinate (ra2s) at (1173.5,662);
\coordinate (ra2t) at (1353.5,326);
\draw[redline] (ra1s) -- (ra1t);
\draw[redline] (ra1t) ++(-17,1.5) -- (ra1t) -- ++(2.2,14.5);
\draw[redline] (ra2s) -- (ra2t);
\draw[redline] (ra2t) ++(-16.4,3) -- (ra2t) -- ++(3.8,17.8);
\end{scope}

%================ captions =================
\node[capt, anchor=base] (capA1) at (70.8,845) {Original};
\node[capt, anchor=base] (capA2) at (72.6,872) {frozen graph};
\node[capt, anchor=base, font=\capfont\fontsize{21.9}{27}\selectfont] (capB) at (562,860) {Metagraph with transfer learning layer (trainer)};
\node[capt, anchor=base west] (capC1) at (1032.8,812) {Frozen graph with last};
\node[capt, anchor=base west] (capC2) at (1032.8,838.6) {layer replaced with};
\node[capt, anchor=base west] (capC3) at (1032.8,865.3) {transfer learnt layer};
\end{tikzpicture}
\end{document}
